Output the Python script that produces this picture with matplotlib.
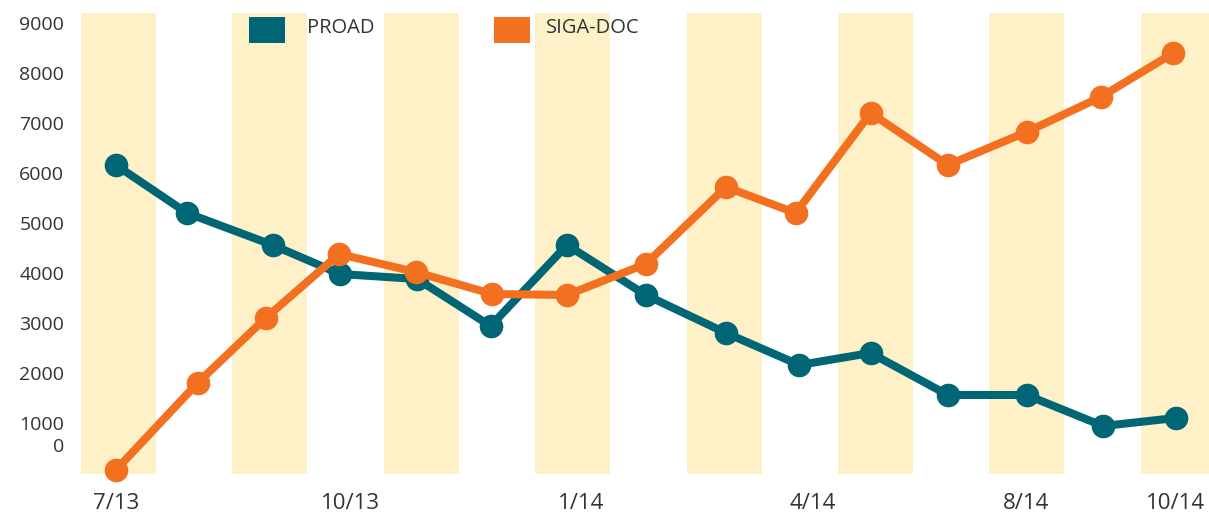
import matplotlib
matplotlib.use("Agg")
import matplotlib.pyplot as plt
from matplotlib.patches import Rectangle

plt.rcParams['font.family'] = ['Open Sans', 'DejaVu Sans']

# Sample positions along the time axis (one unit per sample)
proad_x = [0, 0.94, 2.07, 2.96, 3.98, 4.95, 5.96, 7.00, 8.06, 9.03, 9.97, 10.99, 12.03, 13.04, 14.0]
proad_y = [6160, 5200, 4560, 3980, 3880, 2940, 4560, 3560, 2800, 2160, 2400, 1560, 1560, 940, 1100]

siga_x = [0, 1.08, 1.98, 2.95, 3.96, 4.97, 5.96, 7.00, 8.06, 8.98, 9.97, 10.99, 12.03, 13.01, 13.97]
siga_y = [60, 1800, 3100, 4380, 4020, 3580, 3560, 4180, 5720, 5200, 7200, 6160, 6820, 7520, 8400]

month_pos = [0, 3.10, 6.15, 9.21, 12.03, 14.0]
month_labels = ["7/13", "10/13", "1/14", "4/14", "8/14", "10/14"]

y_ticks = [560, 1000, 2000, 3000, 4000, 5000, 6000, 7000, 8000, 9000]
y_labels = ["0", "1000", "2000", "3000", "4000", "5000", "6000", "7000", "8000", "9000"]

band_centers = [0, 2, 4, 6, 8, 10, 12, 14]

TEAL = "#006675"
ORANGE = "#F37021"
BAND = "#FEF1C7"
TEXT = "#333333"

W, H = 1209, 513
fig = plt.figure(figsize=(W / 100, H / 100), dpi=100)
ax = fig.add_axes([81 / W, 39 / H, (W - 81) / W, (474 - 13) / H])

# alternating shaded columns, slightly offset from the sample positions
BAND_SHIFT = 0.035
BAND_HALF = 0.495
for c in band_centers:
    ax.axvspan(c + BAND_SHIFT - BAND_HALF, c + BAND_SHIFT + BAND_HALF,
               color=BAND, lw=0, zorder=0)

ax.plot(proad_x, proad_y, color=TEAL, lw=5.8, marker='o', ms=16,
        solid_capstyle='round', zorder=3, clip_on=False)
ax.plot(siga_x, siga_y, color=ORANGE, lw=5.8, marker='o', ms=16,
        solid_capstyle='round', zorder=4, clip_on=False)

ax.set_xlim(-0.46, 14.44)
ax.set_ylim(-20, 9200)

ax.set_xticks(month_pos)
ax.set_xticklabels(month_labels, fontsize=16, color=TEXT)
ax.set_yticks(y_ticks)
ax.set_yticklabels(y_labels, fontsize=14, color=TEXT)
ax.tick_params(axis='both', length=0)
ax.tick_params(axis='x', pad=14)
ax.tick_params(axis='y', pad=12)
for s in ax.spines.values():
    s.set_visible(False)

# Legend swatches and labels
def legend_item(x0, tx, color, label):
    fig.add_artist(Rectangle((x0 / W, (H - 43) / H), 36 / W, 26 / H,
                             transform=fig.transFigure, color=color, lw=0, zorder=10))
    fig.text(tx / W, (H - 28) / H, label, fontsize=14.5, color=TEXT,
             ha='left', va='center', zorder=10)

legend_item(249, 307, TEAL, "PROAD")
legend_item(494, 546, ORANGE, "SIGA-DOC")

fig.savefig("out.png", dpi=100)
